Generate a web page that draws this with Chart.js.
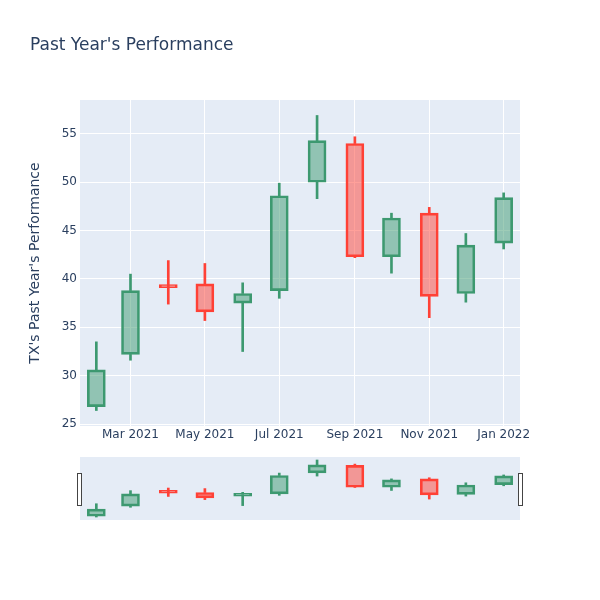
<!DOCTYPE html>
<html>
<head>
<meta charset="utf-8">
<script src="https://cdn.jsdelivr.net/npm/chart.js@4"></script>
<style>
    body { margin: 0; background: #fff; }
    #wrap { position: relative; width: 600px; height: 600px; font-family: "DejaVu Sans", sans-serif; }
    #title { position: absolute; left: 30px; top: 33px; font-size: 17px; line-height: 22px; color: #2a3f5f; }
    #mainBox { position: absolute; left: 0; top: 0; width: 600px; height: 450px; }
    #sliderBox { position: absolute; left: 0; top: 450px; width: 600px; height: 150px; }
</style>
</head>
<body>
<div id="wrap">
    <div id="mainBox"><canvas id="mainChart"></canvas></div>
    <div id="sliderBox"><canvas id="sliderChart"></canvas></div>
    <div id="title">Past Year's Performance</div>
</div>
<script>
// ==================== DATA ====================
const months = ['2021-02-01', '2021-03-01', '2021-04-01', '2021-05-01', '2021-06-01', '2021-07-01',
                '2021-08-01', '2021-09-01', '2021-10-01', '2021-11-01', '2021-12-01', '2022-01-01'];
const openVals  = [26.8, 32.2, 39.2, 39.5, 37.5, 38.8, 50.0, 54.0, 42.3, 46.8, 38.5, 43.7];
const highVals  = [33.5, 40.5, 41.9, 41.6, 39.6, 49.9, 56.9, 54.7, 46.8, 47.4, 44.7, 48.9];
const lowVals   = [26.4, 31.6, 37.4, 35.7, 32.5, 38.0, 48.3, 42.2, 40.6, 36.0, 37.6, 43.1];
const closeVals = [30.6, 38.8, 39.1, 36.6, 38.5, 48.6, 54.3, 42.3, 46.3, 38.2, 43.5, 48.4];

const yTicks = [25, 30, 35, 40, 45, 50, 55];
const xTickDates  = ['2021-03-01', '2021-05-01', '2021-07-01', '2021-09-01', '2021-11-01', '2022-01-01'];
const xTickLabels = ['Mar 2021', 'May 2021', 'Jul 2021', 'Sep 2021', 'Nov 2021', 'Jan 2022'];

// ==================== CONFIG ====================
const FONT = 'DejaVu Sans';
const TEXT = '#2a3f5f';
const PLOT_BG = '#E5ECF6';
const UP_LINE = '#3D9970', UP_FILL = 'rgba(61,153,112,0.5)';
const DN_LINE = '#FF4136', DN_FILL = 'rgba(255,65,54,0.5)';
const Y_MIN = 24.8, Y_MAX = 58.5;

const day = s => Date.parse(s) / 864e5;
const X_MIN = day(months[0]) - 13.4;
const X_MAX = day(months[months.length - 1]) + 13.4;

const isUp = i => closeVals[i] >= openVals[i];

function makeDatasets() {
    const lineCol = months.map((m, i) => isUp(i) ? UP_LINE : DN_LINE);
    const fillCol = months.map((m, i) => isUp(i) ? UP_FILL : DN_FILL);
    return [
        {
            label: 'body',
            data: months.map((m, i) => ({ x: day(m), y: [openVals[i], closeVals[i]] })),
            backgroundColor: fillCol,
            borderColor: lineCol,
            borderWidth: 2,
            borderSkipped: false,
            barThickness: 18,
            minBarLength: 3,
            grouped: false
        },
        {
            label: 'upper',
            data: months.map((m, i) => ({ x: day(m), y: [Math.max(openVals[i], closeVals[i]), highVals[i]] })),
            backgroundColor: lineCol,
            borderWidth: 0,
            barThickness: 2,
            grouped: false
        },
        {
            label: 'lower',
            data: months.map((m, i) => ({ x: day(m), y: [lowVals[i], Math.min(openVals[i], closeVals[i])] })),
            backgroundColor: lineCol,
            borderWidth: 0,
            barThickness: 2,
            grouped: false
        }
    ];
}

const plotBg = {
    id: 'plotBg',
    beforeDraw(chart) {
        const a = chart.chartArea, ctx = chart.ctx;
        ctx.save();
        ctx.fillStyle = PLOT_BG;
        ctx.fillRect(a.left, a.top, a.right - a.left, a.bottom - a.top);
        ctx.restore();
    }
};

const handles = {
    id: 'handles',
    afterDraw(chart) {
        const a = chart.chartArea, ctx = chart.ctx;
        ctx.save();
        ctx.fillStyle = '#fff';
        ctx.strokeStyle = '#444';
        ctx.lineWidth = 1;
        [a.left - 2.5, a.right - 1.5].forEach(x => {
            ctx.fillRect(x, a.top + 16.5, 4, 32);
            ctx.strokeRect(x, a.top + 16.5, 4, 32);
        });
        ctx.restore();
    }
};

// ==================== MAIN CHART ====================
new Chart(document.getElementById('mainChart'), {
    type: 'bar',
    data: { datasets: makeDatasets() },
    options: {
        responsive: true,
        maintainAspectRatio: false,
        animation: false,
        layout: { padding: { left: 27, right: 80, top: 100, bottom: 0 } },
        plugins: { legend: { display: false }, tooltip: { enabled: false } },
        scales: {
            x: {
                type: 'linear',
                offset: false,
                min: X_MIN,
                max: X_MAX,
                afterBuildTicks: s => { s.ticks = xTickDates.map(d => ({ value: day(d) })); },
                afterFit: s => { s.height = 24; },
                ticks: {
                    callback: (v, i) => xTickLabels[i],
                    color: TEXT,
                    font: { family: FONT, size: 12 },
                    padding: 2,
                    maxRotation: 0,
                    autoSkip: false
                },
                grid: { color: '#fff', lineWidth: 1, drawTicks: false, offset: false },
                border: { display: false }
            },
            y: {
                min: Y_MIN,
                max: Y_MAX,
                afterBuildTicks: s => { s.ticks = yTicks.map(v => ({ value: v })); },
                afterFit: s => { s.width = 53; },
                ticks: {
                    color: TEXT,
                    font: { family: FONT, size: 12 },
                    padding: 3
                },
                title: {
                    display: true,
                    text: "TX's Past Year's Performance",
                    color: TEXT,
                    font: { family: FONT, size: 14 },
                    padding: 0
                },
                grid: { color: '#fff', lineWidth: 1, drawTicks: false },
                border: { display: false }
            }
        }
    },
    plugins: [plotBg]
});

// ==================== RANGE SLIDER ====================
new Chart(document.getElementById('sliderChart'), {
    type: 'bar',
    data: { datasets: makeDatasets() },
    options: {
        responsive: true,
        maintainAspectRatio: false,
        animation: false,
        layout: { padding: { left: 80, right: 80, top: 7, bottom: 80 } },
        plugins: { legend: { display: false }, tooltip: { enabled: false } },
        scales: {
            x: { type: 'linear', offset: false, min: X_MIN, max: X_MAX, display: false },
            y: { min: Y_MIN, max: Y_MAX, display: false }
        }
    },
    plugins: [plotBg, handles]
});
</script>
</body>
</html>
